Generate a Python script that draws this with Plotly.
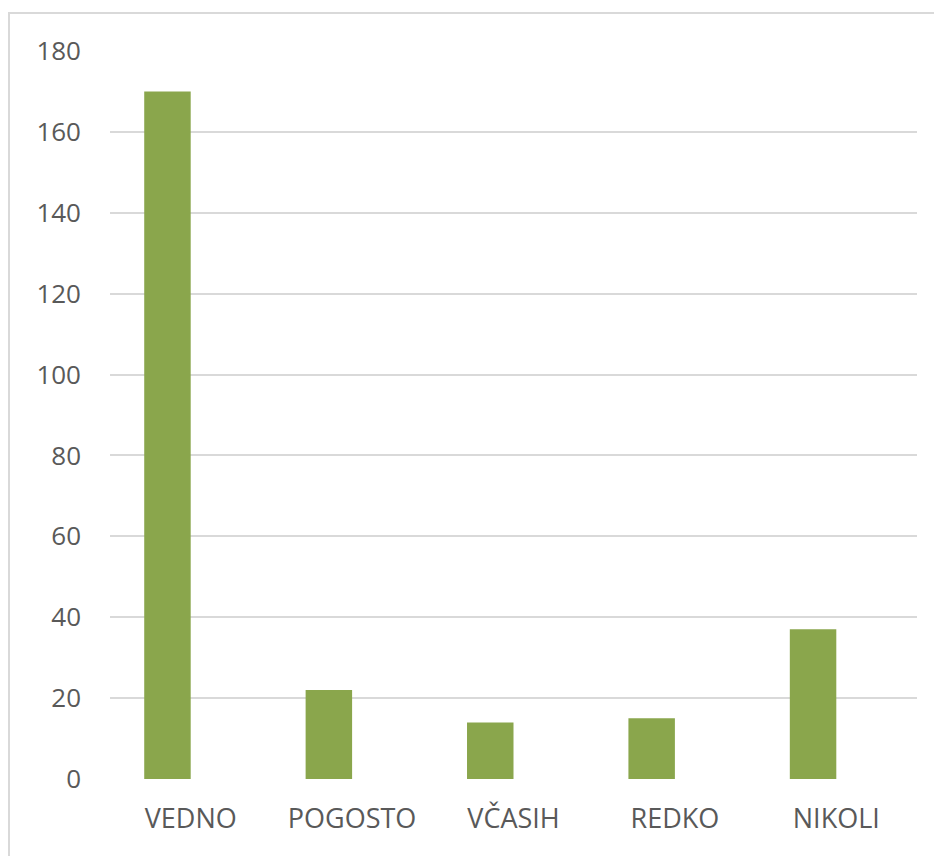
import plotly.graph_objects as go

categories = ["VEDNO", "POGOSTO", "VČASIH", "REDKO", "NIKOLI"]
values = [170, 22, 14, 15, 37]
y_ticks = [0, 20, 40, 60, 80, 100, 120, 140, 160, 180]

BAR_W = 0.288
fig = go.Figure(go.Bar(
    x=categories, y=values,
    marker=dict(color="#8AA64C", line=dict(width=0)),
    width=BAR_W, offset=-BAR_W,
))

W, H = 942, 856
L, R, T, B = 102, 33, 43, 85
pw = W - L - R
ph = H - T - B

fig.update_layout(
    width=W, height=H,
    margin=dict(l=L, r=R, t=T, b=B),
    paper_bgcolor="white", plot_bgcolor="white",
    font=dict(family="Open Sans, Liberation Sans, sans-serif", size=26, color="#595959"),
    showlegend=False,
    xaxis=dict(showgrid=False, showline=False, zeroline=False, ticks="",
               range=[-0.5, 4.5],
               ticklabelstandoff=21, tickfont=dict(size=27)),
    yaxis=dict(range=[0, 180], tickvals=y_ticks, showgrid=True, gridcolor="#D9D9D9",
               gridwidth=2, zeroline=False, showline=False, ticks="",
               ticklabelstandoff=28, tickfont=dict(size=26)),
    shapes=[dict(type="rect", xref="paper", yref="paper",
                 x0=(1 - L) / pw, x1=1.2, y0=-0.3, y1=(H - B - 5) / ph,
                 line=dict(color="#D9D9D9", width=2), layer="below")],
)

fig.write_html("out.html")
